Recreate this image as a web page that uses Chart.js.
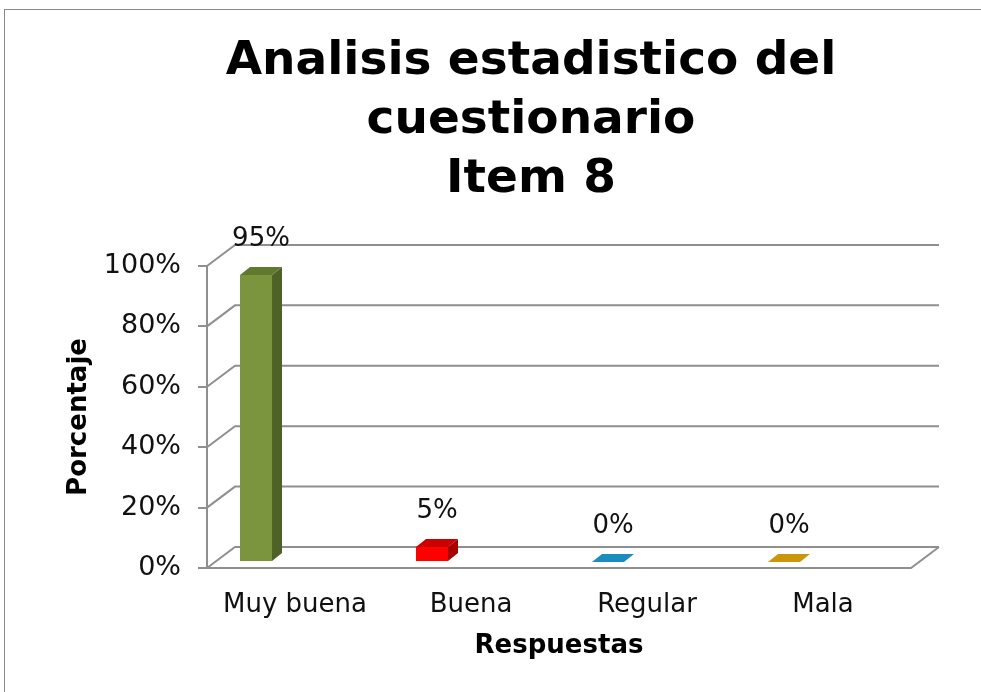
<!DOCTYPE html>
<html>
<head>
<meta charset="utf-8">
<script src="https://cdn.jsdelivr.net/npm/chart.js@4/dist/chart.umd.min.js"></script>
<style>
    html, body { margin: 0; padding: 0; background: #fff; overflow: hidden; }
    #marco { position: absolute; left: 4px; top: 9px; width: 2000px; height: 2000px; border: 1px solid #8a8a8a; }
    #grafico { position: absolute; left: 0; top: 0; }
</style>
</head>
<body>
<div id="marco"></div>
<canvas id="grafico" width="1062" height="692"></canvas>
<script>
// datos
const categorias = ['Muy buena', 'Buena', 'Regular', 'Mala'];
const porcentajes = [95, 5, 0, 0];
const marcasY = [0, 20, 40, 60, 80, 100];

const colorFrente = ['#7a953d', '#ff0000', '#1a8cbf', '#c9960c'];
const colorLado = ['#4e6228', '#a80000', '#0e6a94', '#9a7308'];
const colorTope = ['#5f7a2f', '#cc0000', '#1580b0', '#b8890a'];

// profundidad de la pared y de las barras
const FONDO = { dx: 28, dy: -21 };
const BARRA = { dx: 10, dy: -8, mx: -39, my: -6 };
const GRIS = '#8f8f8f';

const efecto3d = {
    id: 'efecto3d',
    beforeDatasetsDraw(chart) {
        const ctx = chart.ctx;
        const area = chart.chartArea;
        const y = chart.scales.y;
        ctx.save();
        ctx.strokeStyle = GRIS;
        ctx.lineWidth = 2;
        marcasY.forEach(v => {
            const py = y.getPixelForValue(v);
            ctx.beginPath();
            ctx.moveTo(area.left, py);
            ctx.lineTo(area.left + FONDO.dx, py + FONDO.dy);
            ctx.lineTo(area.right + FONDO.dx, py + FONDO.dy);
            ctx.stroke();
        });
        // piso
        const p0 = y.getPixelForValue(0);
        ctx.beginPath();
        ctx.moveTo(area.left, p0);
        ctx.lineTo(area.right, p0);
        ctx.lineTo(area.right + FONDO.dx, p0 + FONDO.dy);
        ctx.stroke();
        ctx.restore();

        ctx.save();
        ctx.translate(BARRA.mx, BARRA.my);
    },
    afterDatasetsDraw(chart) {
        const ctx = chart.ctx;
        const meta = chart.getDatasetMeta(0);
        meta.data.forEach((bar, i) => {
            const p = bar.getProps(['x', 'y', 'base', 'width'], true);
            const l = p.x - p.width / 2, r = p.x + p.width / 2;
            ctx.fillStyle = colorLado[i];
            ctx.beginPath();
            ctx.moveTo(r, p.y);
            ctx.lineTo(r + BARRA.dx, p.y + BARRA.dy);
            ctx.lineTo(r + BARRA.dx, p.base + BARRA.dy);
            ctx.lineTo(r, p.base);
            ctx.closePath();
            ctx.fill();
            ctx.fillStyle = p.y >= p.base - 0.5 ? colorFrente[i] : colorTope[i];
            ctx.beginPath();
            ctx.moveTo(l, p.y);
            ctx.lineTo(l + BARRA.dx, p.y + BARRA.dy);
            ctx.lineTo(r + BARRA.dx, p.y + BARRA.dy);
            ctx.lineTo(r, p.y);
            ctx.closePath();
            ctx.fill();

            ctx.fillStyle = '#111';
            ctx.font = '26px "DejaVu Sans"';
            ctx.textAlign = 'center';
            ctx.textBaseline = 'middle';
            ctx.fillText(porcentajes[i] + '%', p.x + 5, p.y - 36);
        });
        ctx.restore();
    }
};

new Chart(document.getElementById('grafico'), {
    type: 'bar',
    data: {
        labels: categorias,
        datasets: [{
            label: 'Porcentaje',
            data: porcentajes,
            backgroundColor: colorFrente,
            borderWidth: 0,
            categoryPercentage: 1,
            barPercentage: 0.182
        }]
    },
    options: {
        responsive: false,
        animation: false,
        devicePixelRatio: 1,
        layout: { padding: 0 },
        plugins: {
            legend: { display: false },
            tooltip: { enabled: false },
            title: {
                display: true,
                text: ['Analisis estadistico del', 'cuestionario', 'Item 8'],
                color: '#000',
                font: { family: '"DejaVu Sans"', size: 47, weight: 'bold', lineHeight: 1.255 },
                padding: { top: 32, bottom: 57 }
            }
        },
        scales: {
            x: {
                grid: { display: false, drawTicks: false },
                border: { display: false },
                ticks: { color: '#111', font: { family: '"DejaVu Sans"', size: 26 }, padding: 22 },
                title: {
                    display: true,
                    text: 'Respuestas',
                    color: '#000',
                    font: { family: '"DejaVu Sans"', size: 26, weight: 'bold' },
                    padding: { top: 0, bottom: 30 }
                },
                afterFit(s) { s.height = 124; }
            },
            y: {
                min: 0,
                max: 100,
                ticks: {
                    stepSize: 20,
                    color: '#111',
                    font: { family: '"DejaVu Sans"', size: 27 },
                    padding: 17,
                    callback: v => v + '%'
                },
                grid: { drawOnChartArea: false, drawTicks: true, tickLength: 9, color: GRIS, lineWidth: 2 },
                border: { display: true, color: GRIS, width: 2 },
                title: {
                    display: true,
                    text: 'Porcentaje',
                    color: '#000',
                    font: { family: '"DejaVu Sans"', size: 26, weight: 'bold' },
                    padding: { top: 64, bottom: 0 }
                },
                afterFit(s) { s.width = 207; }
            },
            relleno: {
                position: 'right',
                grid: { display: false, drawTicks: false },
                border: { display: false },
                ticks: { display: false },
                afterFit(s) { s.width = 151; }
            }
        }
    },
    plugins: [efecto3d]
});
</script>
</body>
</html>
